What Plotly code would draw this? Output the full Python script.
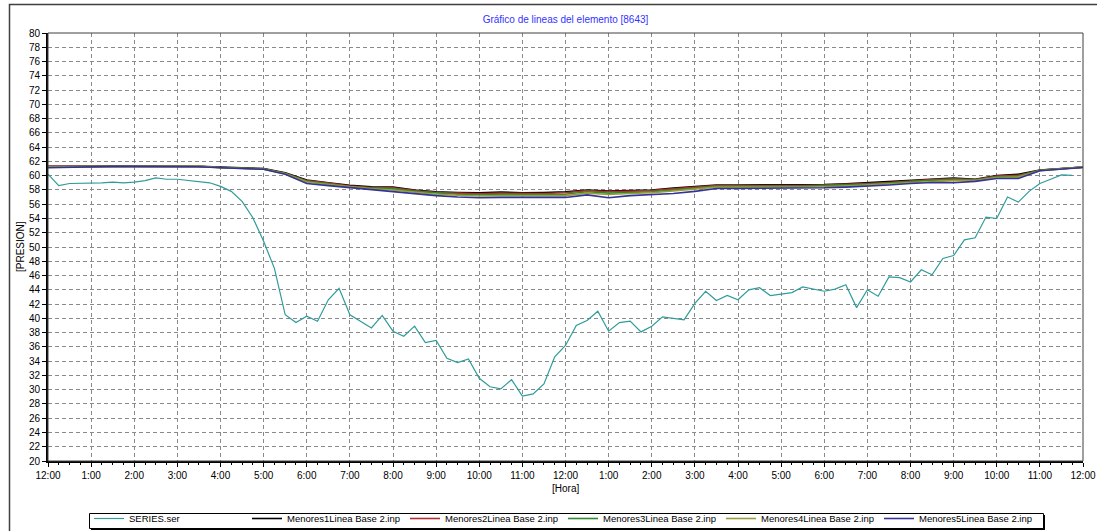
import plotly.graph_objects as go

# ---------------- data ----------------
hour_ticks = list(range(25))
hour_labels = ["12:00", "1:00", "2:00", "3:00", "4:00", "5:00", "6:00", "7:00", "8:00",
               "9:00", "10:00", "11:00", "12:00", "1:00", "2:00", "3:00", "4:00", "5:00",
               "6:00", "7:00", "8:00", "9:00", "10:00", "11:00", "12:00"]

# SERIES.ser, 15-minute samples starting at 12:00 (hours)
series_times = [i * 0.25 for i in range(96)]
series_ser = [60.2, 58.6, 58.9, 58.9, 58.9, 59.0, 59.1, 59.0, 59.1, 59.3, 59.7, 59.5,
              59.5, 59.3, 59.1, 59.0, 58.5, 57.8, 56.4, 54.1, 50.8, 47.0, 40.5, 39.4,
              40.3, 39.6, 42.6, 44.2, 40.5, 39.6, 38.65, 40.4, 38.2, 37.5, 38.9, 36.6,
              36.9, 34.4, 33.8, 34.3, 31.6, 30.4, 30.1, 31.4, 29.1, 29.4, 30.8, 34.6,
              36.2, 39.0, 39.7, 41.0, 38.2, 39.4, 39.6, 38.1, 38.9, 40.2, 40.05, 39.8,
              42.1, 43.8, 42.5, 43.2, 42.6, 44.0, 44.3, 43.2, 43.4, 43.6, 44.4, 44.1,
              43.8, 44.1, 44.7, 41.5, 44.0, 43.1, 45.8, 45.7, 45.1, 46.8, 46.1, 48.4,
              48.8, 51.0, 51.3, 54.2, 54.0, 57.0, 56.3, 57.8, 58.9, 59.5, 60.1, 60.05]

# Menores series, 30-minute samples
menores_times = [i * 0.5 for i in range(49)]
menores1 = [61.3, 61.3, 61.3, 61.35, 61.35, 61.35, 61.4, 61.3, 61.2, 61.1, 61.0, 60.4,
            59.4, 59.0, 58.65, 58.45, 58.4, 58.0, 57.75, 57.65, 57.6, 57.7, 57.6, 57.65,
            57.75, 58.0, 57.85, 57.9, 58.0, 58.25, 58.5, 58.7, 58.7, 58.7, 58.65, 58.7,
            58.75, 58.85, 59.0, 59.15, 59.35, 59.55, 59.65, 59.5, 60.0, 60.2, 60.8, 61.0, 61.2]
menores2 = [61.3, 61.3, 61.25, 61.3, 61.3, 61.3, 61.35, 61.3, 61.15, 61.05, 60.95, 60.35,
            59.3, 58.95, 58.55, 58.35, 58.3, 57.9, 57.65, 57.55, 57.45, 57.55, 57.5, 57.5,
            57.6, 57.9, 57.75, 57.8, 57.9, 58.15, 58.4, 58.6, 58.6, 58.6, 58.55, 58.6,
            58.7, 58.75, 58.9, 59.05, 59.3, 59.45, 59.55, 59.45, 59.95, 60.05, 60.75, 60.95, 61.2]
menores3 = [61.25, 61.3, 61.3, 61.3, 61.3, 61.3, 61.35, 61.3, 61.15, 61.05, 60.95, 60.3,
            59.2, 58.85, 58.45, 58.25, 58.15, 57.8, 57.55, 57.4, 57.3, 57.4, 57.35, 57.35,
            57.4, 57.75, 57.55, 57.65, 57.75, 58.0, 58.3, 58.5, 58.5, 58.5, 58.45, 58.5,
            58.6, 58.65, 58.8, 58.95, 59.2, 59.35, 59.45, 59.4, 59.85, 59.9, 60.75, 60.95, 61.2]
menores4 = [61.2, 61.25, 61.3, 61.3, 61.3, 61.3, 61.3, 61.3, 61.1, 61.0, 60.9, 60.25,
            59.1, 58.75, 58.4, 58.15, 58.0, 57.65, 57.4, 57.25, 57.15, 57.2, 57.2, 57.2,
            57.2, 57.55, 57.35, 57.5, 57.6, 57.85, 58.15, 58.4, 58.4, 58.4, 58.35, 58.4,
            58.45, 58.55, 58.7, 58.85, 59.1, 59.25, 59.3, 59.3, 59.75, 59.8, 60.7, 60.95, 61.2]
menores5 = [61.1, 61.2, 61.3, 61.3, 61.3, 61.3, 61.3, 61.25, 61.1, 61.0, 60.9, 60.2,
            58.9, 58.6, 58.3, 58.0, 57.7, 57.4, 57.2, 57.0, 56.9, 56.95, 56.95, 56.95,
            56.95, 57.3, 56.9, 57.2, 57.3, 57.5, 57.8, 58.2, 58.2, 58.2, 58.2, 58.25,
            58.3, 58.4, 58.5, 58.7, 58.9, 59.05, 59.0, 59.2, 59.6, 59.6, 60.7, 60.9, 61.15]

series_names = ["SERIES.ser", "Menores1Linea Base 2.inp", "Menores2Linea Base 2.inp",
                "Menores3Linea Base 2.inp", "Menores4Linea Base 2.inp", "Menores5Linea Base 2.inp"]
series_colors = ["#2f9b9b", "#000000", "#b03030", "#2e8b2e", "#9c9c3c", "#333399"]

# ---------------- figure ----------------
FONT = "Liberation Sans, Arial, sans-serif"
W, H = 1097, 531
L, R, T, B = 48, 14, 33, 70
pw, ph = W - L - R, H - T - B

def px_x(x):
    return (x - L) / pw

def px_y(y):
    return (H - B - y) / ph

fig = go.Figure()
fig.add_trace(go.Scatter(x=series_times, y=series_ser, mode="lines", name=series_names[0],
                         line=dict(color=series_colors[0], width=1.2)))
for name, col, vals in zip(series_names[1:], series_colors[1:],
                           [menores1, menores2, menores3, menores4, menores5]):
    fig.add_trace(go.Scatter(x=menores_times, y=vals, mode="lines", name=name,
                             line=dict(color=col, width=1.6)))

fig.update_layout(
    width=W, height=H,
    margin=dict(l=L, r=R, t=T, b=B, autoexpand=False),
    paper_bgcolor="white", plot_bgcolor="white",
    font=dict(family=FONT, size=10, color="#000000"),
    title=dict(text="Gráfico de lineas del elemento [8643]", x=0.5, xref="paper",
               xanchor="center", y=1 - 19 / H, yanchor="middle",
               font=dict(family=FONT, size=10, color="#3333ff")),
    showlegend=True,
    legend=dict(orientation="h", x=px_x(89), xanchor="left", y=px_y(504), yanchor="top",
                bgcolor="rgba(0,0,0,0)", borderwidth=0,
                font=dict(family=FONT, size=9.5), entrywidth=113, entrywidthmode="pixels",
                itemwidth=30, tracegroupgap=0),
    xaxis=dict(range=[0, 24], tickmode="array", tickvals=hour_ticks, ticktext=hour_labels,
               showgrid=True, gridcolor="#8a8a8a", gridwidth=1, griddash="4px,3px",
               showline=True, linecolor="#000000", linewidth=2, mirror=False,
               ticks="outside", ticklen=4, tickcolor="#000000", zeroline=False,
               tickfont=dict(family=FONT, size=10, color="#000000"),
               minor=dict(dtick=0.25, tick0=0, ticks="outside", ticklen=2, tickcolor="#000000",
                          showgrid=False)),
    yaxis=dict(range=[20, 80], dtick=2, tick0=20,
               showgrid=True, gridcolor="#8a8a8a", gridwidth=1, griddash="4px,3px",
               showline=True, linecolor="#000000", linewidth=2, mirror=False,
               ticks="outside", ticklen=4, tickcolor="#000000", zeroline=False,
               tickfont=dict(family=FONT, size=10, color="#000000")),
    annotations=[
        dict(text="[Hora]", xref="paper", yref="paper", x=0.5, y=px_y(488),
             xanchor="center", yanchor="middle", showarrow=False,
             font=dict(family=FONT, size=10, color="#000000")),
        dict(text="[PRESION]", xref="paper", yref="paper", x=px_x(20), y=0.5,
             xanchor="center", yanchor="middle", showarrow=False, textangle=-90,
             font=dict(family=FONT, size=10, color="#000000")),
    ],
    shapes=[
        # plot area border (top/right)
        dict(type="rect", xref="paper", yref="paper", x0=0, x1=1, y0=0, y1=1,
             line=dict(color="#404040", width=1), layer="above"),
        # outer frame
        dict(type="rect", xref="paper", yref="paper", x0=px_x(9.5), x1=px_x(1110),
             y0=px_y(545), y1=px_y(4.5), line=dict(color="#404040", width=1.5), layer="above"),
        # legend box shadow and frame
        dict(type="rect", xref="paper", yref="paper", x0=px_x(91), x1=px_x(1045),
             y0=px_y(530), y1=px_y(515), fillcolor="#000000", line=dict(width=0), layer="above"),
        dict(type="rect", xref="paper", yref="paper", x0=px_x(89.5), x1=px_x(1043.5),
             y0=px_y(528.5), y1=px_y(513.5), fillcolor="#ffffff",
             line=dict(color="#000000", width=1), layer="above"),
    ],
)

fig.write_html("out.html", config={"displayModeBar": False},
               post_script="document.body.style.margin='0';document.body.style.overflow='hidden';")
